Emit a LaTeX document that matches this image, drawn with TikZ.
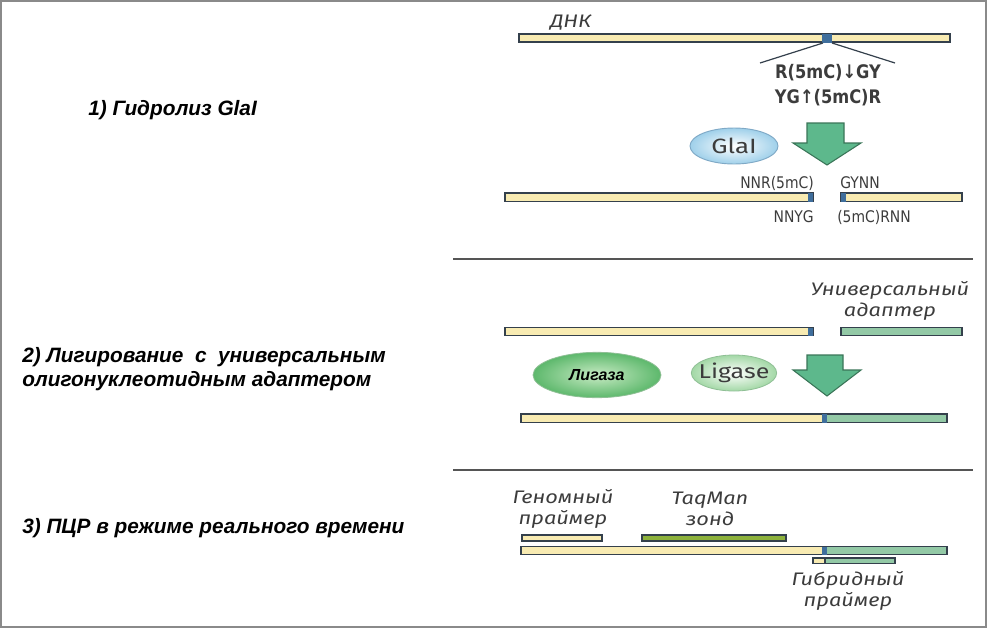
\documentclass[tikz,border=0pt]{standalone}
\usepackage{fontspec}
\setmainfont{Liberation Sans}
\newfontfamily\labfont[FakeStretch=1.2]{Fira Sans}
\newfontfamily\widefont[FakeStretch=1.25]{Fira Sans}
\newfontfamily\condfont[FakeStretch=0.87]{DejaVu Sans}
\usetikzlibrary{shapes.geometric}
\definecolor{yel}{HTML}{F8EBB2}
\definecolor{grn}{HTML}{93C9A6}
\definecolor{blu}{HTML}{3F6E9C}
\definecolor{edgec}{HTML}{34404C}
\definecolor{olive}{HTML}{8DB23C}
\definecolor{arrowg}{HTML}{5DB88C}
\definecolor{arrowd}{HTML}{3A7558}
\definecolor{framec}{HTML}{8A8A8A}
\definecolor{txtg}{HTML}{3C3C3C}
\definecolor{divc}{HTML}{555555}
\definecolor{glaiout}{HTML}{9FD0EA}
\definecolor{glaiedge}{HTML}{7FA9C6}
\definecolor{ligout}{HTML}{5DB86C}
\definecolor{ligin}{HTML}{C8EBC4}
\definecolor{ligeout}{HTML}{A3D8A6}
\definecolor{ligedge}{HTML}{8FBF95}
\tikzset{
  strand/.style={draw=edgec, line width=1pt},
  bluemark/.style={fill=blu},
  title/.style={anchor=west, font=\bfseries\itshape\fontsize{15.6}{18}\selectfont, text=black, inner sep=0pt},
  ilabel/.style={font=\labfont\itshape\fontsize{13.6}{15.75}\selectfont, text=txtg, align=center, inner sep=0pt},
  seqb/.style={font=\condfont\bfseries\fontsize{14}{16}\selectfont, text=txtg, inner sep=0pt},
  seq/.style={font=\condfont\fontsize{12}{14}\selectfont, text=txtg, inner sep=0pt},
  bigarrow/.style={fill=arrowg, draw=arrowd, line width=0.8pt, line join=miter},
  divider/.style={draw=divc, line width=1.4pt},
  cutline/.style={draw=edgec, line width=0.9pt},
  enzyme/.style={ellipse, inner sep=0pt},
}
\begin{document}
\begin{tikzpicture}[x=0.75pt,y=-0.75pt]
\useasboundingbox (0,0) rectangle (987,628);
\draw[framec, line width=1.6pt] (1,1) rectangle (986,627);

% ---------- Section 1 ----------
\node[title] (t1) at (88,110) {1) Гидролиз GlaI};
\node[ilabel, anchor=west] (dnk) at (550,23) {ДНК};
\draw[strand, fill=yel] (519,34) rectangle (950,42);
\fill[bluemark] (822,33.5) rectangle (832,42.5);
\coordinate (cutL) at (823,43);
\coordinate (cutR) at (832,43);
\coordinate (lineL) at (760,63);
\coordinate (lineR) at (895,63);
\draw[cutline] (cutL) -- (lineL);
\draw[cutline] (cutR) -- (lineR);
\node[seqb] (site1) at (828,73) {R(5mC)↓GY};
\node[seqb] (site2) at (828,98) {YG↑(5mC)R};

\node[enzyme, draw=glaiedge, line width=0.7pt, minimum width=66pt, minimum height=27pt,
  inner color=white, outer color=glaiout] (glai) at (734,146) {};
\node[font=\widefont\fontsize{15.5}{17}\selectfont, text=txtg, inner sep=0pt] (glait) at (glai.center) {GlaI};
\draw[bigarrow] (807,123) -- (844,123) -- (844,143) -- (861,143) -- (827,165) -- (793,143) -- (807,143) -- cycle;

\draw[strand, fill=yel] (505,193) rectangle (813,201.5);
\fill[bluemark] (808,193) rectangle (813,201.5);
\draw[strand, fill=yel] (841,193) rectangle (962,201.5);
\fill[bluemark] (841,193) rectangle (846,201.5);
\node[seq, anchor=east] (nnr) at (814,183) {NNR(5mC)};
\node[seq, anchor=west] (gynn) at (840,183) {GYNN};
\node[seq, anchor=east] (nnyg) at (814,217) {NNYG};
\node[seq, anchor=west] (rnn) at (837,217) {(5mC)RNN};

\draw[divider] (453,259) -- (973,259);

% ---------- Section 2 ----------
\node[title] (t2a) at (22,357) {2) Лигирование \ с \ универсальным};
\node[title] (t2b) at (22,381) {олигонуклеотидным адаптером};
\node[ilabel] (adapt) at (890,301) {Универсальный\\адаптер};
\draw[strand, fill=yel] (505,327.5) rectangle (813,335.5);
\fill[bluemark] (808,327.5) rectangle (813,335.5);
\draw[strand, fill=grn] (841,327.5) rectangle (962,335.5);

\node[enzyme, draw=ligedge, line width=0.6pt, minimum width=96pt, minimum height=34pt,
  inner color=ligin, outer color=ligout] (ligaza) at (597,375) {};
\node[font=\bfseries\itshape\fontsize{12}{14}\selectfont, text=black, inner sep=0pt] (ligazat) at (ligaza.center) {Лигаза};
\node[enzyme, draw=ligedge, line width=0.6pt, minimum width=64pt, minimum height=27pt,
  inner color=white, outer color=ligeout] (ligase) at (734,373) {};
\node[font=\widefont\fontsize{15}{17}\selectfont, text=txtg, inner sep=0pt] (ligaset) at (ligase.center) {Ligase};
\draw[bigarrow] (807,355) -- (843,355) -- (843,370) -- (861,370) -- (827,396) -- (793,370) -- (807,370) -- cycle;

\draw[strand, fill=yel] (521,414) rectangle (825,422.5);
\draw[strand, fill=grn] (825,414) rectangle (947,422.5);
\fill[bluemark] (822,414) rectangle (827,422.5);

\draw[divider] (453,470) -- (973,470);

% ---------- Section 3 ----------
\node[title] (t3) at (22,528) {3) ПЦР в режиме реального времени};
\node[ilabel] (gprim) at (563,509) {Геномный\\праймер};
\node[ilabel] (taq) at (710,509) {TaqMan\\зонд};
\draw[strand, fill=yel] (522,535) rectangle (602,541);
\draw[strand, fill=olive] (642,535) rectangle (786,541);
\draw[strand, fill=yel] (521,546.5) rectangle (825,554.5);
\draw[strand, fill=grn] (825,546.5) rectangle (947,554.5);
\fill[bluemark] (822,546.5) rectangle (827,554.5);
\draw[strand, fill=yel] (813,558) rectangle (825,563.5);
\draw[strand, fill=grn] (825,558) rectangle (895,563.5);
\node[ilabel] (hprim) at (848,591) {Гибридный\\праймер};
\end{tikzpicture}
\end{document}
